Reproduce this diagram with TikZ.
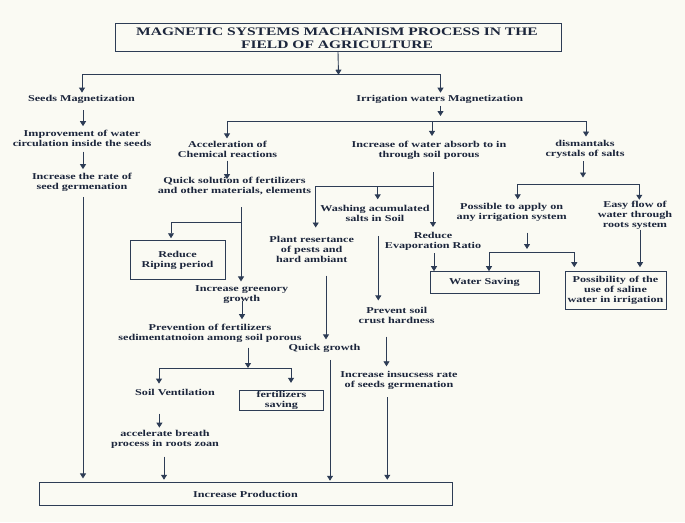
\documentclass[tikz,border=0pt]{standalone}
\usepackage{fontspec}
\setmainfont{Liberation Serif}[FakeStretch=1.35]
\usetikzlibrary{arrows.meta}
\definecolor{bgc}{RGB}{250,250,243}
\definecolor{ink}{RGB}{28,38,60}
\definecolor{linec}{RGB}{45,60,85}
\newcommand\bdyf{\fontsize{9}{10}\selectfont\bfseries}
\newcommand\ttlf{\fontsize{11.5}{13.4}\selectfont\bfseries}
\begin{document}
\begin{tikzpicture}[x=1pt,y=-1pt,
  txt/.style={align=center, inner sep=0pt, font=\bdyf, text=ink},
  box/.style={draw=linec, line width=1pt, inner sep=0pt, align=center, font=\bdyf, text=ink},
  arr/.style={line width=0.9pt, draw=linec, -{Triangle[length=5pt,width=6pt]}},
  ln/.style={line width=0.9pt, draw=linec}]
\useasboundingbox (0,0) rectangle (685,522);
\fill[bgc] (0,0) rectangle (685,522);

% nodes
\node[box, minimum width=446pt, minimum height=28pt] (titlebox) at (338,37.2) {};
\node[txt, font=\ttlf] (title) at (337,38.3) {MAGNETIC SYSTEMS MACHANISM PROCESS IN THE\\FIELD OF AGRICULTURE};
\node[txt] (seeds) at (81.5,99.3) {Seeds Magnetization};
\node[txt] (irr) at (439.7,99) {Irrigation waters Magnetization};
\node[txt] (improv) at (82,138.3) {Improvement of water\\circulation inside the seeds};
\node[txt] (rate) at (82,182.5) {Increase the rate of\\seed germenation};
\node[txt] (accel) at (227.5,149.5) {Acceleration of\\Chemical reactions};
\node[txt] (quick) at (234.5,186.3) {Quick solution of fertilizers\\and other materials, elements};
\node[txt] (incw) at (429,150) {Increase of water absorb to in\\through soil porous};
\node[txt] (dism) at (585,149.2) {dismantaks\\crystals of salts};
\node[txt] (wash) at (375,213.5) {Washing acumulated\\salts in Soil};
\node[txt] (plant) at (311.7,249.3) {Plant resertance\\of pests and\\hard ambiant};
\node[txt] (evap) at (433,241.3) {Reduce\\Evaporation Ratio};
\node[txt] (possible) at (511.7,212.3) {Possible to apply on\\any irrigation system};
\node[txt] (easy) at (635,214.8) {Easy flow of\\water through\\roots system};
\node[box, minimum width=95pt, minimum height=38.5pt] (reduceR) at (177.5,260) {Reduce\\Riping period};
\node[txt] (green) at (241.7,294.3) {Increase greenory\\growth};
\node[txt] (prevf) at (210,333.3) {Prevention of fertilizers\\sedimentatnoion among soil porous};
\node[txt] (prevs) at (396.7,315.8) {Prevent soil\\crust hardness};
\node[txt] (qgrowth) at (324.5,348.7) {Quick growth};
\node[txt] (insuc) at (399,380) {Increase insucsess rate\\of seeds germenation};
\node[txt] (soilv) at (175,392.7) {Soil Ventilation};
\node[box, minimum width=84pt, minimum height=20.5pt] (fsave) at (281.5,400.3) {fertilizers\\saving};
\node[txt] (breath) at (165,439.3) {accelerate breath\\process in roots zoan};
\node[box, minimum width=413pt, minimum height=22.5pt] (prod) at (245.5,494.2) {Increase Production};
\node[box, minimum width=109pt, minimum height=21.6pt] (wsave) at (484.5,282.5) {Water Saving};
\node[box, minimum width=101pt, minimum height=37.6pt] (possib) at (615.5,290.5) {Possibility of the\\use of saline\\water in irrigation};

% title branching
\coordinate (jt) at (338.5,74.7);
\coordinate (jtl) at (82,74.7);
\coordinate (jtr) at (440.5,74.7);
\draw[arr] (titlebox.south) -- (jt);
\draw[ln] (jtl) -- (jtr);
\draw[arr, shorten >=2.4pt] (jtl) -- (jtl |- seeds.north);
\draw[arr, shorten >=2pt] (jtr) -- (jtr |- irr.north);

% seeds column
\draw[arr, shorten <=6.7pt, shorten >=3.7pt] (83,0 |- seeds.south) -- (83,0 |- improv.north);
\draw[arr, shorten <=5pt, shorten >=4pt] (83,0 |- improv.south) -- (83,0 |- rate.north);
\draw[arr, shorten <=5pt, shorten >=4pt] (83,0 |- rate.south) -- (83,0 |- prod.north);

% irrigation branching
\coordinate (ji) at (440.5,116);
\coordinate (jil) at (227,121);
\coordinate (jim) at (432,121);
\coordinate (jir) at (586,121);
\draw[arr, shorten <=2.5pt] (440.5,0 |- irr.south) -- (ji);
\draw[ln] (jil) -- (jir);
\draw[arr, shorten >=2.7pt] (jil) -- (jil |- accel.north);
\draw[arr, shorten >=4.7pt] (jim) -- (jim |- incw.north);
\draw[arr, shorten >=3.4pt] (jir) -- (jir |- dism.north);

% acceleration branch
\draw[arr, shorten <=2.8pt, shorten >=-1.9pt] (227,0 |- accel.south) -- (227,0 |- quick.north);
\coordinate (jq) at (241,222.7);
\draw[arr, shorten <=12pt, shorten >=3.7pt] (241,0 |- quick.south) -- (241,0 |- green.north);
\draw[arr, shorten >=2pt] (jq) -| (171,0 |- reduceR.north);
\draw[arr, shorten <=-2pt, shorten >=4.7pt] (242,0 |- green.south) -- (242,0 |- prevf.north);
\coordinate (jf) at (248,368);
\coordinate (jfl) at (159,368);
\coordinate (jfr) at (291,368);
\draw[arr, shorten <=5pt] (248,0 |- prevf.south) -- (jf);
\draw[ln] (jfl) -- (jfr);
\draw[arr, shorten >=5.7pt] (jfl) -- (jfl |- soilv.north);
\draw[arr, shorten >=6.7pt] (jfr) -- (jfr |- fsave.north);
\draw[arr, shorten <=17.5pt, shorten >=2.4pt] (159.4,0 |- soilv.south) -- (159.4,0 |- breath.north);
\draw[arr, shorten <=8pt, shorten >=2.7pt] (164,0 |- breath.south) -- (164,0 |- prod.north);

% water absorb branch
\coordinate (jw) at (433,186);
\coordinate (jwm) at (377.7,186);
\draw[arr, shorten <=13pt, shorten >=5pt] (433,0 |- incw.south) -- (433,0 |- evap.north);
\draw[arr, shorten >=8.4pt] (jw) -| (315.7,0 |- plant.north);
\draw[arr, shorten >=5.8pt] (jwm) -- (jwm |- wash.north);
\draw[arr, shorten <=14pt, shorten >=7pt] (378.3,0 |- wash.south) -- (378.3,0 |- prevs.north);
\draw[arr, shorten <=13pt, shorten >=5pt] (326,0 |- plant.south) -- (326,0 |- qgrowth.north);
\draw[arr, shorten <=6.8pt, shorten >=1.7pt] (330,0 |- qgrowth.south) -- (330,0 |- prod.north);
\draw[arr, shorten <=12.5pt, shorten >=4.4pt] (386.5,0 |- prevs.south) -- (386.5,0 |- insuc.north);
\draw[arr, shorten <=8pt, shorten >=2.7pt] (387.3,0 |- insuc.south) -- (387.3,0 |- prod.north);
\draw[arr, shorten <=2.5pt] (434,0 |- evap.south) -- (434,0 |- wsave.north);

% salts branch
\coordinate (jd) at (583,177.5);
\coordinate (jdl) at (517.7,184.3);
\coordinate (jdr) at (639.3,184.3);
\draw[arr, shorten <=3pt] (583,0 |- dism.south) -- (jd);
\draw[ln] (jdl) -- (jdr);
\draw[arr, shorten >=3.7pt] (jdl) -- (jdl |- possible.north);
\draw[arr, shorten >=0.7pt] (jdr) -- (jdr |- easy.north);
\coordinate (jp) at (527,249);
\coordinate (jpl) at (489,252.3);
\coordinate (jpr) at (574.3,252.3);
\draw[arr, shorten <=11pt] (527,0 |- possible.south) -- (jp);
\draw[ln] (jpl) -- (jpr);
\draw[arr] (jpl) -- (jpl |- wsave.north);
\draw[arr, shorten >=4pt] (jpr) -- (jpr |- possib.north);
\draw[arr, shorten <=0.5pt, shorten >=4pt] (640,0 |- easy.south) -- (640,0 |- possib.north);
\end{tikzpicture}
\end{document}
